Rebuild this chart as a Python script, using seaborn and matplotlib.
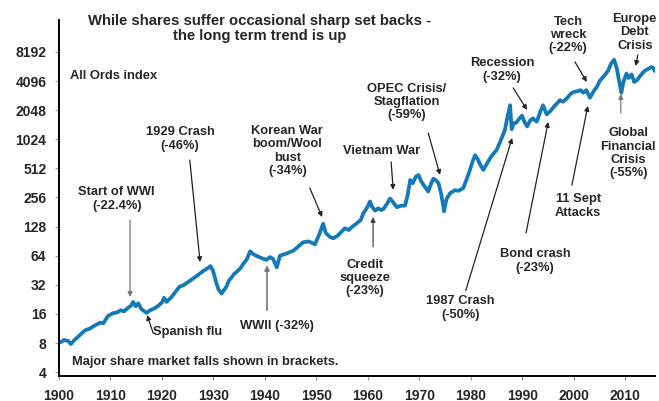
import pandas as pd
import seaborn as sns
from matplotlib import pyplot as plt

# All Ords index (log scale)
years = [
    1900.0, 1901.0, 1901.8, 1902.3, 1903.0, 1904.0, 1905.0, 1906.0, 1907.0, 1908.0,
    1908.6, 1909.5, 1910.5, 1911.3, 1912.0, 1912.6, 1913.3, 1914.0, 1914.4, 1914.9,
    1915.4, 1916.0, 1917.0, 1917.8, 1918.5, 1919.3, 1920.0, 1920.4, 1920.9, 1921.8,
    1922.6, 1923.4, 1924.2, 1925.0, 1926.0, 1927.0, 1928.0, 1929.0, 1929.4, 1929.9,
    1930.6, 1931.0, 1931.6, 1932.0, 1932.5, 1933.0, 1933.5, 1934.0, 1934.6, 1935.3,
    1935.8, 1936.5, 1937.1, 1937.8, 1938.7, 1939.5, 1940.3, 1941.0, 1941.6, 1942.3,
    1942.9, 1944.0, 1945.5, 1946.5, 1947.4, 1948.5, 1949.7, 1950.5, 1951.3, 1951.8,
    1952.6, 1953.3, 1954.2, 1955.5, 1956.3, 1956.8, 1957.8, 1958.6, 1959.1, 1959.8,
    1960.4, 1960.8, 1961.4, 1962.0, 1962.5, 1963.0, 1963.8, 1964.3, 1964.8, 1965.6,
    1966.3, 1967.2, 1967.7, 1968.2, 1968.7, 1969.3, 1969.8, 1970.3, 1970.8, 1971.7,
    1972.2, 1972.7, 1973.2, 1973.7, 1974.2, 1974.8, 1975.0, 1975.3, 1976.0, 1976.9,
    1977.6, 1978.5, 1979.2, 1979.8, 1980.4, 1980.8, 1981.3, 1981.8, 1982.4, 1983.0,
    1983.7, 1984.3, 1985.0, 1985.8, 1986.6, 1987.0, 1987.6, 1987.9, 1988.3, 1988.8,
    1989.3, 1989.9, 1990.4, 1990.9, 1991.5, 1992.0, 1992.8, 1993.5, 1994.0, 1994.7,
    1995.4, 1996.2, 1997.3, 1997.9, 1998.6, 1999.3, 1999.9, 2000.5, 2001.3, 2001.8,
    2002.4, 2003.1, 2003.8, 2004.5, 2005.0, 2005.8, 2006.6, 2007.2, 2007.8, 2008.3,
    2008.8, 2009.2, 2009.6, 2010.2, 2010.6, 2011.2, 2011.7, 2012.3, 2012.8, 2013.4,
    2013.9, 2014.5, 2015.0, 2015.4, 2015.7,
]
index_values = [
    8.0, 8.6, 8.4, 7.8, 8.6, 9.6, 10.8, 11.3, 12.2, 13.0,
    12.8, 15.2, 16.3, 16.6, 17.5, 17.0, 18.3, 19.5, 21.3, 19.2,
    20.6, 18.0, 16.4, 17.6, 18.2, 19.5, 21.0, 23.5, 21.3, 23.8,
    27.0, 30.6, 31.8, 34.0, 37.0, 40.5, 44.5, 48.0, 50.0, 45.0,
    33.0, 28.5, 26.0, 28.0, 30.5, 35.5, 38.0, 41.5, 44.0, 48.0,
    53.0, 59.0, 71.0, 66.0, 62.5, 60.0, 58.0, 62.0, 59.0, 48.5,
    64.0, 67.0, 72.0, 80.0, 88.0, 90.0, 84.0, 105, 137, 110,
    100, 97, 104, 123, 118, 126, 138, 150, 176, 200,
    233, 205, 187, 198, 190, 194, 225, 250, 232, 203,
    210, 211, 270, 388, 360, 420, 437, 380, 345, 295,
    350, 400, 385, 360, 282, 184, 215, 250, 285, 305,
    300, 320, 400, 494, 620, 700, 640, 560, 494, 560,
    650, 720, 795, 1000, 1280, 1650, 2300, 1300, 1500, 1520,
    1650, 1800, 1550, 1390, 1600, 1680, 1560, 2000, 2300, 1850,
    2000, 2250, 2600, 2500, 2700, 3000, 3150, 3200, 3300, 3100,
    3300, 2750, 3200, 3600, 4100, 4600, 5200, 6200, 6800, 5600,
    4000, 3100, 4000, 4900, 4400, 4800, 4000, 4200, 4600, 5000,
    5300, 5500, 5700, 5600, 5200,
]

y_ticks = [4, 8, 16, 32, 64, 128, 256, 512, 1024, 2048, 4096, 8192]
x_ticks = [1900, 1910, 1920, 1930, 1940, 1950, 1960, 1970, 1980, 1990, 2000, 2010]

# (label, text x/y in axes fraction, arrow tail (year, value), arrow head (year, value), arrow colour)
events = [
    ("Start of WWI\n(-22.4%)", 0.097, 0.497, (1913.8, 150), (1913.8, 24), "#777777"),
    ("1929 Crash\n(-46%)", 0.203, 0.666, (1925.4, 625), (1927.4, 55), "#222222"),
    ("Korean War\nboom/Wool\nbust\n(-34%)", 0.383, 0.632, (1948.7, 321), (1951.1, 161), "#222222"),
    ("Vietnam War", 0.542, 0.632, (1964.5, 598), (1964.9, 307), "#222222"),
    ("OPEC Crisis/\nStagflation\n(-59%)", 0.584, 0.770, (1971.7, 1190), (1974.0, 438), "#222222"),
    ("Credit\nsqueeze\n(-23%)", 0.513, 0.275, (1961.0, 79), (1961.0, 161), "#444444"),
    ("1987 Crash\n(-50%)", 0.673, 0.191, (1979.0, 28), (1988.0, 1056), "#222222"),
    ("Recession\n(-32%)", 0.743, 0.860, (1988.2, 3475), (1990.9, 2058), "#222222"),
    ("Bond crash\n(-23%)", 0.799, 0.323, (1990.7, 110), (1995.0, 1546), "#222222"),
    ("11 Sept\nAttacks", 0.871, 0.478, (1999.6, 344), (2002.7, 2263), "#222222"),
    ("Tech\nwreck\n(-22%)", 0.854, 0.958, (2000.2, 6460), (2002.5, 4010), "#222222"),
    ("Europe\nDebt\nCrisis", 0.966, 0.966, (2012.4, 7620), (2012.0, 5860), "#222222"),
    ("Global\nFinancial\nCrisis\n(-55%)", 0.955, 0.626, (2009.1, 1917), (2009.1, 3010), "#777777"),
]


def plot_all_ords():
    df = pd.DataFrame({"year": years, "value": index_values})

    sns.set_style("ticks")
    plt.rcParams["font.family"] = ["Liberation Sans", "DejaVu Sans"]
    plt.rcParams["font.weight"] = "bold"

    fig = plt.figure(figsize=(6.59, 4.01), dpi=100)
    ax = fig.add_axes([0.0895, 0.0623, 0.9045, 0.8877])

    sns.lineplot(data=df, x="year", y="value", ax=ax, color="#1479B8", linewidth=2.7)

    ax.set_yscale("log", base=2)
    ax.set_ylim(3.65, 17500)
    ax.set_xlim(1900, 2015.75)
    ax.set_yticks(y_ticks)
    ax.set_yticklabels([str(t) for t in y_ticks], fontsize=10, fontweight="bold")
    ax.yaxis.set_minor_locator(plt.NullLocator())
    ax.set_xticks(x_ticks)
    ax.set_xticklabels([str(t) for t in x_ticks], fontsize=10, fontweight="bold")
    ax.tick_params(axis="both", direction="out", length=3, width=0.8, color="#999999", pad=6)
    ax.set_xlabel("")
    ax.set_ylabel("")

    sns.despine(ax=ax)
    for side in ["left", "bottom"]:
        ax.spines[side].set_linewidth(1.4)
        ax.spines[side].set_color("black")

    ax.text(0.337, 0.976, "While shares suffer occasional sharp set backs -\nthe long term trend is up",
            transform=ax.transAxes, ha="center", va="center", fontsize=10.7, fontweight="bold",
            linespacing=1.15)
    ax.text(0.018, 0.843, "All Ords index", transform=ax.transAxes, ha="left", va="center",
            fontsize=9.3, fontweight="bold")
    ax.text(0.022, 0.039, "Major share market falls shown in brackets.", transform=ax.transAxes,
            ha="left", va="center", fontsize=9.3, fontweight="bold")

    for label, tx, ty, tail, head, col in events:
        ax.text(tx, ty, label, transform=ax.transAxes, ha="center", va="center",
                fontsize=9.3, fontweight="bold", linespacing=1.15)
        ax.annotate("", xy=head, xytext=tail,
                    arrowprops=dict(arrowstyle="-|>", color=col, lw=0.9,
                                    mutation_scale=7, shrinkA=0, shrinkB=0))

    # annotations whose text sits beside the arrow
    ax.text(0.158, 0.124, "Spanish flu", transform=ax.transAxes, ha="left", va="center",
            fontsize=9.3, fontweight="bold")
    ax.annotate("", xy=(1917.1, 15.6), xytext=(1918.3, 10.1),
                arrowprops=dict(arrowstyle="-|>", color="#222222", lw=0.9,
                                mutation_scale=7, shrinkA=0, shrinkB=0))
    ax.text(0.366, 0.140, "WWII (-32%)", transform=ax.transAxes, ha="center", va="center",
            fontsize=9.3, fontweight="bold")
    ax.annotate("", xy=(1940.4, 51), xytext=(1940.4, 17.5),
                arrowprops=dict(arrowstyle="-|>", color="#777777", lw=1.2,
                                mutation_scale=7, shrinkA=0, shrinkB=0))

    fig.savefig("out.png", dpi=100)


plot_all_ords()
